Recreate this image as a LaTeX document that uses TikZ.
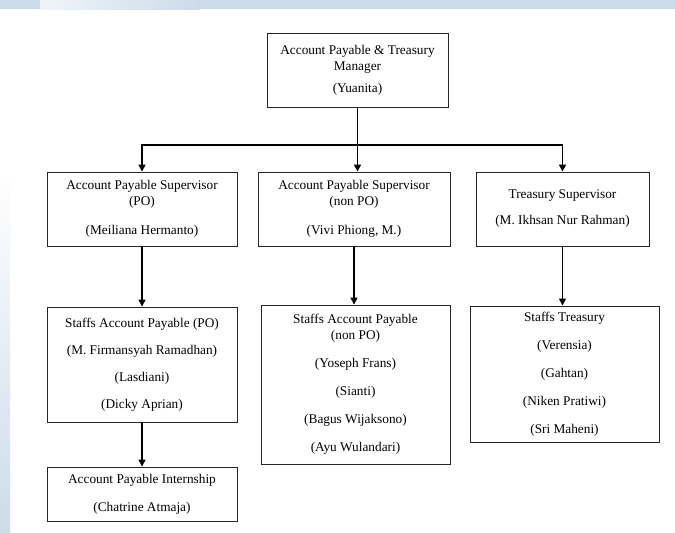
\documentclass[tikz,border=0pt]{standalone}
\usepackage{fontspec}
\setmainfont{Liberation Serif}
\usetikzlibrary{arrows.meta}

\definecolor{bgblue}{HTML}{CCDBEA}

\tikzset{
  post/.style={draw=black!85, line width=0.9pt, align=center, inner sep=0pt,
    font=\fontsize{13.3}{16}\selectfont},
  arr/.style={line width=1.5pt, -{Triangle[length=7pt,width=7pt]}}
}

\begin{document}
\begin{tikzpicture}[x=1pt,y=-1pt]

\useasboundingbox (0,0) rectangle (675,533);
\fill[bgblue] (0,0) rectangle (675,9);
\shade[left color=bgblue!30, right color=bgblue] (40,0) rectangle (200,9);
\shade[top color=white, bottom color=bgblue] (0,170) rectangle (10,533);


\node[post, minimum width=181pt, minimum height=74pt] (mgr) at (357.5,70)
  {Account Payable \& Treasury\\Manager\\[6pt](Yuanita)};

\node[post, minimum width=190pt, minimum height=74pt] (apPO) at (142,209)
  {Account Payable Supervisor\\(PO)\\[13pt](Meiliana Hermanto)};
\node[post, minimum width=192pt, minimum height=74pt] (apNon) at (354,209)
  {Account Payable Supervisor\\(non PO)\\[13pt](Vivi Phiong, M.)};
\node[post, minimum width=173pt, minimum height=74pt] (trs) at (562.5,209)
  {Treasury Supervisor\\[10pt](M. Ikhsan Nur Rahman)};

\node[post, minimum width=190pt, minimum height=115pt] (stPO) at (142,364.5)
  {Staffs Account Payable (PO)\\[11pt](M. Firmansyah Ramadhan)\\[11pt](Lasdiani)\\[11pt](Dicky Aprian)};
\node[post, minimum width=189pt, minimum height=159pt] (stNon) at (355.5,384.5)
  {Staffs Account Payable\\(non PO)\\[12pt](Yoseph Frans)\\[12pt](Sianti)\\[12pt](Bagus Wijaksono)\\[12pt](Ayu Wulandari)};
\node[post, minimum width=189pt, minimum height=136pt] (stTrs) at (564.5,374)
  {Staffs Treasury\\[12pt](Verensia)\\[12pt](Gahtan)\\[12pt](Niken Pratiwi)\\[12pt](Sri Maheni)};

\node[post, minimum width=190pt, minimum height=54pt] (intern) at (142,494)
  {Account Payable Internship\\[12pt](Chatrine Atmaja)};


\coordinate (bus) at (mgr.south |- 0,145);

\draw[line width=1.5pt] (mgr.south) -- (bus);
\draw[arr] (bus) -| (apPO.north);
\draw[arr] (bus) -- (bus |- apNon.north);
\draw[arr] (bus) -| (trs.north);


\draw[arr] (apPO) -- (stPO);
\draw[arr] (apNon.south) -- (apNon.south |- stNon.north);
\draw[arr] (trs.south) -- (trs.south |- stTrs.north);
\draw[arr] (stPO) -- (intern);

\end{tikzpicture}
\end{document}
